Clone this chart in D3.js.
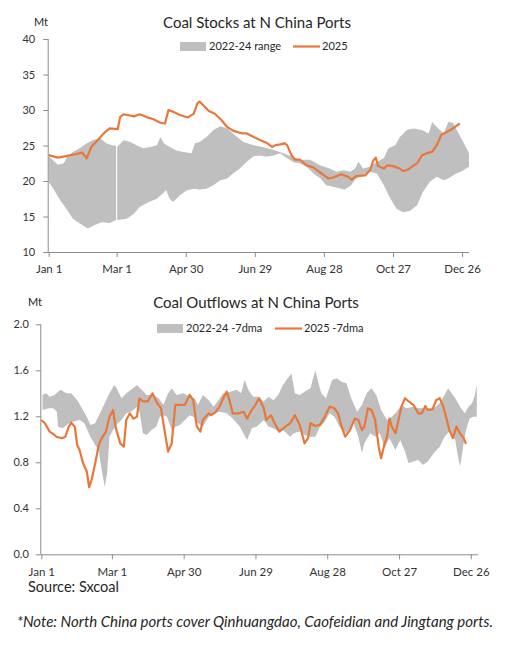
<!DOCTYPE html>
<html>
<head>
<meta charset="utf-8">
<script src="https://cdn.jsdelivr.net/npm/d3@7"></script>
<style>
  body { margin: 0; background: #fff; }
  svg text { font-family: Lato, "Noto Sans", sans-serif; fill: #262626; }
  .axis path, .axis line { stroke: #8c8c8c; }
  .axis text { fill: #333; }
</style>
</head>
<body>
<div id="container"></div>
<script>
var svgWidth = 510;
var svgHeight = 649;

var ORANGE = '#e8783a', GREY = '#bfbfbf';

// x positions are day of year (0 = Jan 1)
var tickDays = [0, 59, 119, 179, 239, 299, 359];
var tickLabels = ['Jan 1', 'Mar 1', 'Apr 30', 'Jun 29', 'Aug 28', 'Oct 27', 'Dec 26'];

// ---- coal stocks, Mt ----
var stockTicks = [10, 15, 20, 25, 30, 35, 40];

var stockHigh = [[0,23.5],[4,22.9],[8,22.3],[13,22.5],[16,23.4],[21,24.1],[27,24.6],[33,25.3],[39,25.8],[45,26.0],
  [50,25.3],[56,25.0],[58.5,25.0],[59.5,24.8],[65,25.75],[71,25.5],[76,25.05],[82,24.6],[88,24.8],[94,25.05],[97,26.2],
  [100,25.3],[105,24.8],[111,24.3],[117,24.1],[124,23.9],[127,25.3],[131,25.5],[137,26.2],[143,27.2],[149,27.7],
  [155,27.4],[160,26.7],[169,25.5],[178,25.05],[186,24.8],[195,24.4],[204,23.9],[213,23.3],[218,23.0],[227,23.0],
  [236,22.2],[244,21.75],[250,21.3],[256,21.5],[262,21.3],[266,21.75],[269,22.7],[273,21.75],[279,22.0],[285,22.7],
  [291,23.2],[295,24.6],[301,25.05],[305,26.2],[311,27.2],[317,27.4],[324,27.2],[330,26.7],[333,28.3],[337,27.6],
  [343,26.7],[347,28.3],[351,28.2],[356,26.7],[360,25.5],[365,23.9]];

var stockLow = [[0,19.9],[4,18.9],[10,17.3],[16,15.9],[21,14.7],[29,13.8],[34,13.3],[40,13.8],[46,14.2],[53,14.1],
  [58.5,14.5],[59.5,14.5],[68,14.7],[74,15.4],[79,16.35],[87,17.05],[94,17.5],[102,18.7],[105,17.5],[108,17.05],
  [114,18.0],[120,18.7],[126,18.9],[131,18.8],[137,18.9],[143,19.4],[149,20.1],[155,20.35],[160,21.05],[166,21.75],
  [172,22.7],[178,23.5],[184,23.6],[189,23.4],[195,23.6],[201,23.9],[207,23.2],[213,22.6],[218,22.5],[224,22.0],
  [230,21.05],[236,20.35],[241,19.4],[247,19.2],[253,18.95],[257,18.8],[262,19.3],[267,20.35],[273,20.8],[279,21.3],
  [285,21.05],[291,19.4],[296,17.75],[302,16.1],[308,15.6],[314,15.8],[320,16.6],[325,18.5],[331,19.9],[337,20.6],
  [343,20.1],[347,20.35],[353,21.0],[359,21.4],[365,22.0]];

var stock2025 = [[0,23.64],[8,23.3],[16,23.55],[24,23.8],[29,24.0],[33,23.2],[37,24.8],[45,26.2],[49,26.9],[53,27.4],
  [60,27.3],[62,29.0],[65,29.4],[74,29.1],[79,29.4],[85,29.0],[91,28.7],[97,28.2],[101,28.1],[104,30.0],[108,29.75],
  [114,29.3],[121,28.95],[126,29.5],[129,30.9],[131,31.2],[134,30.7],[139,29.85],[144,29.5],[150,28.6],[155,27.6],
  [160,27.1],[168,26.7],[172,26.7],[178,26.2],[184,25.75],[189,25.4],[194,24.8],[197,25.05],[201,25.15],[205,25.3],
  [207,25.05],[211,23.6],[214,23.0],[218,23.0],[224,22.2],[230,21.9],[237,21.05],[243,20.35],[247,20.5],[254,20.96],
  [260,20.6],[263,20.2],[267,20.7],[275,20.8],[279,21.5],[282,22.9],[284,23.3],[286,22.1],[291,21.75],[294,22.2],
  [299,22.1],[305,21.75],[308,21.4],[312,21.6],[317,22.2],[320,22.5],[324,23.6],[328,23.9],[333,24.1],[337,25.05],
  [341,26.5],[347,27.0],[351,27.4],[357,28.1]];

// ---- coal outflows, Mt (7-day moving average) ----
var flowTicks = [0.0, 0.4, 0.8, 1.2, 1.6, 2.0];

var flowHigh = [[1,1.386],[4,1.40],[7,1.37],[11,1.386],[16,1.43],[21,1.40],[25,1.40],[30,1.34],[34,1.27],[38,1.197],
  [41,1.125],[45,1.14],[49,1.226],[53,1.313],[57,1.40],[61,1.472],[63,1.443],[67,1.357],[71,1.40],[75,1.43],
  [80,1.472],[84,1.43],[88,1.386],[94,1.386],[98,1.357],[102,1.30],[106,1.40],[109,1.443],[113,1.386],[119,1.40],
  [124,1.37],[128,1.357],[131,1.30],[135,1.386],[140,1.34],[144,1.284],[148,1.34],[152,1.40],[158,1.414],[163,1.43],
  [167,1.40],[170,1.516],[173,1.43],[177,1.37],[181,1.37],[186,1.33],[190,1.37],[194,1.34],[198,1.386],[202,1.472],
  [206,1.53],[209,1.574],[212,1.40],[216,1.386],[220,1.414],[225,1.443],[229,1.60],[231,1.516],[234,1.40],[238,1.357],
  [243,1.516],[247,1.53],[251,1.50],[255,1.487],[259,1.357],[264,1.24],[268,1.30],[272,1.40],[276,1.443],[280,1.386],
  [284,1.255],[289,1.168],[293,1.197],[297,1.24],[301,1.30],[305,1.27],[311,1.284],[316,1.27],[322,1.27],[328,1.27],
  [333,1.313],[337,1.386],[340,1.443],[343,1.40],[346,1.357],[350,1.284],[354,1.226],[357,1.284],[360,1.313],
  [362,1.37],[364,1.472]];

var flowLow = [[1,1.255],[6,1.27],[10,1.27],[13,1.24],[14,1.11],[18,1.096],[23,1.14],[27,1.154],[32,1.168],[36,1.14],
  [41,1.023],[45,0.95],[48,0.907],[50,0.762],[53,0.588],[55,0.704],[57,1.023],[60,1.08],[62,1.11],[64,1.14],
  [67,1.168],[71,1.226],[75,1.24],[80,1.284],[82,1.24],[85,1.052],[88,1.038],[92,1.08],[96,1.11],[99,1.197],
  [102,1.21],[105,1.197],[109,1.08],[112,1.11],[116,1.125],[120,1.168],[124,1.21],[127,1.197],[131,1.14],[135,1.11],
  [140,1.197],[145,1.226],[149,1.24],[155,1.226],[160,1.18],[166,1.11],[172,0.994],[176,1.096],[180,1.11],[186,1.168],
  [190,1.11],[194,1.096],[198,1.067],[202,1.08],[208,1.023],[211,1.052],[216,1.067],[220,1.038],[225,1.023],
  [229,1.023],[233,1.11],[237,1.154],[241,1.226],[245,1.197],[250,1.096],[255,1.052],[261,1.14],[265,1.023],
  [268,0.878],[270,0.965],[275,1.052],[279,1.023],[283,1.052],[287,0.922],[291,1.01],[296,0.907],[300,0.994],
  [304,0.893],[307,0.791],[311,0.806],[315,0.82],[319,0.777],[323,0.806],[328,0.878],[333,0.936],[337,1.023],
  [341,1.067],[346,0.994],[348,0.864],[350,0.762],[353,0.965],[355,1.08],[358,1.18],[361,1.197],[364,1.197]];

var flow2025 = [[0,1.168],[3,1.14],[7,1.067],[10,1.046],[13,1.02],[17,1.01],[20,1.02],[23,1.11],[25,1.145],[28,1.11],
  [30,0.95],[32,0.907],[35,0.79],[38,0.72],[40,0.583],[42,0.646],[45,0.79],[48,0.95],[50,1.0],[54,1.067],[57,1.197],
  [60,1.255],[62,1.11],[66,0.965],[69,0.936],[71,1.168],[74,1.226],[77,1.18],[80,1.197],[82,1.357],[85,1.33],
  [89,1.33],[93,1.40],[96,1.33],[100,1.27],[103,1.08],[106,0.893],[109,0.965],[112,1.30],[116,1.30],[120,1.30],
  [124,1.386],[127,1.34],[130,1.11],[133,1.067],[135,1.168],[140,1.226],[142,1.21],[145,1.23],[149,1.284],[152,1.357],
  [155,1.414],[158,1.313],[160,1.226],[165,1.226],[169,1.24],[172,1.18],[175,1.24],[179,1.30],[182,1.357],[186,1.27],
  [188,1.168],[192,1.21],[195,1.14],[199,1.067],[204,1.11],[208,1.14],[212,1.21],[216,1.125],[220,0.965],[223,1.01],
  [225,1.14],[229,1.116],[233,1.125],[237,1.197],[241,1.284],[245,1.27],[248,1.226],[251,1.11],[254,1.023],[258,1.08],
  [262,1.18],[265,1.168],[268,1.08],[270,1.11],[273,1.27],[276,1.255],[279,1.168],[282,0.936],[284,0.835],[287,0.965],
  [289,1.023],[291,1.18],[293,1.11],[296,1.052],[298,1.14],[301,1.284],[304,1.357],[307,1.33],[311,1.30],[315,1.226],
  [318,1.226],[321,1.29],[323,1.255],[327,1.26],[330,1.34],[333,1.357],[336,1.284],[339,1.168],[341,1.08],[344,1.01],
  [347,1.11],[350,1.052],[353,1.01],[355,0.96]];

var svg = d3.select('#container').append('svg')
    .attr('width', svgWidth)
    .attr('height', svgHeight);

function drawPanel(opt) {
    var x = d3.scaleLinear().domain([0, 365]).range([opt.left, opt.right]);
    var y = d3.scaleLinear().domain(opt.yDomain).range([opt.bottom, opt.top]);

    var line = d3.line()
        .x(function (d) { return x(d[0]); })
        .y(function (d) { return y(d[1]); });

    // range band: upper edge forward, lower edge back
    opt.pieces.forEach(function (p) {
        var hi = opt.high.filter(function (d) { return d[0] >= p[0] && d[0] <= p[1]; });
        var lo = opt.low.filter(function (d) { return d[0] >= p[0] && d[0] <= p[1]; });
        svg.append('path')
            .attr('d', line(hi.concat(lo.slice().reverse())) + 'Z')
            .style('fill', GREY)
            .style('stroke', 'none');
    });

    svg.append('path')
        .datum(opt.line)
        .attr('d', line)
        .style('fill', 'none')
        .style('stroke', ORANGE)
        .style('stroke-width', 2.2)
        .style('stroke-linejoin', 'round');

    var yAxis = svg.append('g')
        .attr('class', 'axis')
        .attr('transform', 'translate(' + (opt.left - 0.5) + ',0)')
        .call(d3.axisLeft(y).tickValues(opt.yTicks).tickSize(5).tickPadding(opt.yPad).tickFormat(d3.format(opt.yFormat)));
    yAxis.selectAll('text').style('font-size', '11px');

    var xAxis = svg.append('g')
        .attr('class', 'axis')
        .attr('transform', 'translate(0,' + opt.bottom + ')')
        .call(d3.axisBottom(x).tickValues(tickDays).tickSize(5).tickPadding(opt.xPad)
            .tickFormat(function (d, i) { return tickLabels[i]; }));
    xAxis.selectAll('text').style('font-size', '11.5px');
    xAxis.select('.domain').attr('d', 'M' + (opt.left - 0.5) + ',0.5H' + opt.right);
    yAxis.select('.domain').attr('d', 'M0,' + opt.top + 'V' + opt.bottom);

    svg.append('text')
        .attr('x', opt.titleX).attr('y', opt.titleY)
        .attr('text-anchor', 'middle')
        .style('font-size', '15px')
        .text(opt.title);

    svg.append('text')
        .attr('x', opt.unitX).attr('y', opt.titleY - 2)
        .style('font-size', '11px')
        .text('Mt');

    // legend
    var lg = svg.append('g').attr('transform', 'translate(' + opt.legendX + ',' + opt.legendY + ')');
    lg.append('rect').attr('x', 0).attr('y', -4).attr('width', 26).attr('height', 9).style('fill', GREY);
    lg.append('text').attr('x', 29).attr('y', 4).style('font-size', '11px').text(opt.bandName);
    lg.append('line').attr('x1', opt.legendGap).attr('x2', opt.legendGap + 27).attr('y1', 0.5).attr('y2', 0.5)
        .style('stroke', ORANGE).style('stroke-width', 2.2);
    lg.append('text').attr('x', opt.legendGap + 29).attr('y', 4).style('font-size', '11px').text(opt.lineName);
}

drawPanel({
    left: 48.7, right: 469, top: 39, bottom: 252,
    yDomain: [10, 40], yTicks: stockTicks, yFormat: 'd', yPad: 8, xPad: 8,
    high: stockHigh, low: stockLow, line: stock2025,
    pieces: [[0, 58.5], [59.5, 365]],
    title: 'Coal Stocks at N China Ports', titleX: 257, titleY: 28, unitX: 34,
    legendX: 180, legendY: 46, legendGap: 113,
    bandName: '2022-24 range', lineName: '2025'
});

drawPanel({
    left: 41.3, right: 478, top: 324.3, bottom: 554.3,
    yDomain: [0, 2], yTicks: flowTicks, yFormat: '.1f', yPad: 7, xPad: 9,
    high: flowHigh, low: flowLow, line: flow2025,
    pieces: [[0, 365]],
    title: 'Coal Outflows at N China Ports', titleX: 256, titleY: 308, unitX: 28,
    legendX: 157, legendY: 328, legendGap: 118,
    bandName: '2022-24 -7dma', lineName: '2025 -7dma'
});

svg.append('text')
    .attr('x', 28).attr('y', 592)
    .style('font-size', '14.5px')
    .text('Source: Sxcoal');

svg.append('text')
    .attr('x', 17).attr('y', 627)
    .style('font-size', '15px')
    .style('font-style', 'italic')
    .text('*Note: North China ports cover Qinhuangdao, Caofeidian and Jingtang ports.');
</script>
</body>
</html>
